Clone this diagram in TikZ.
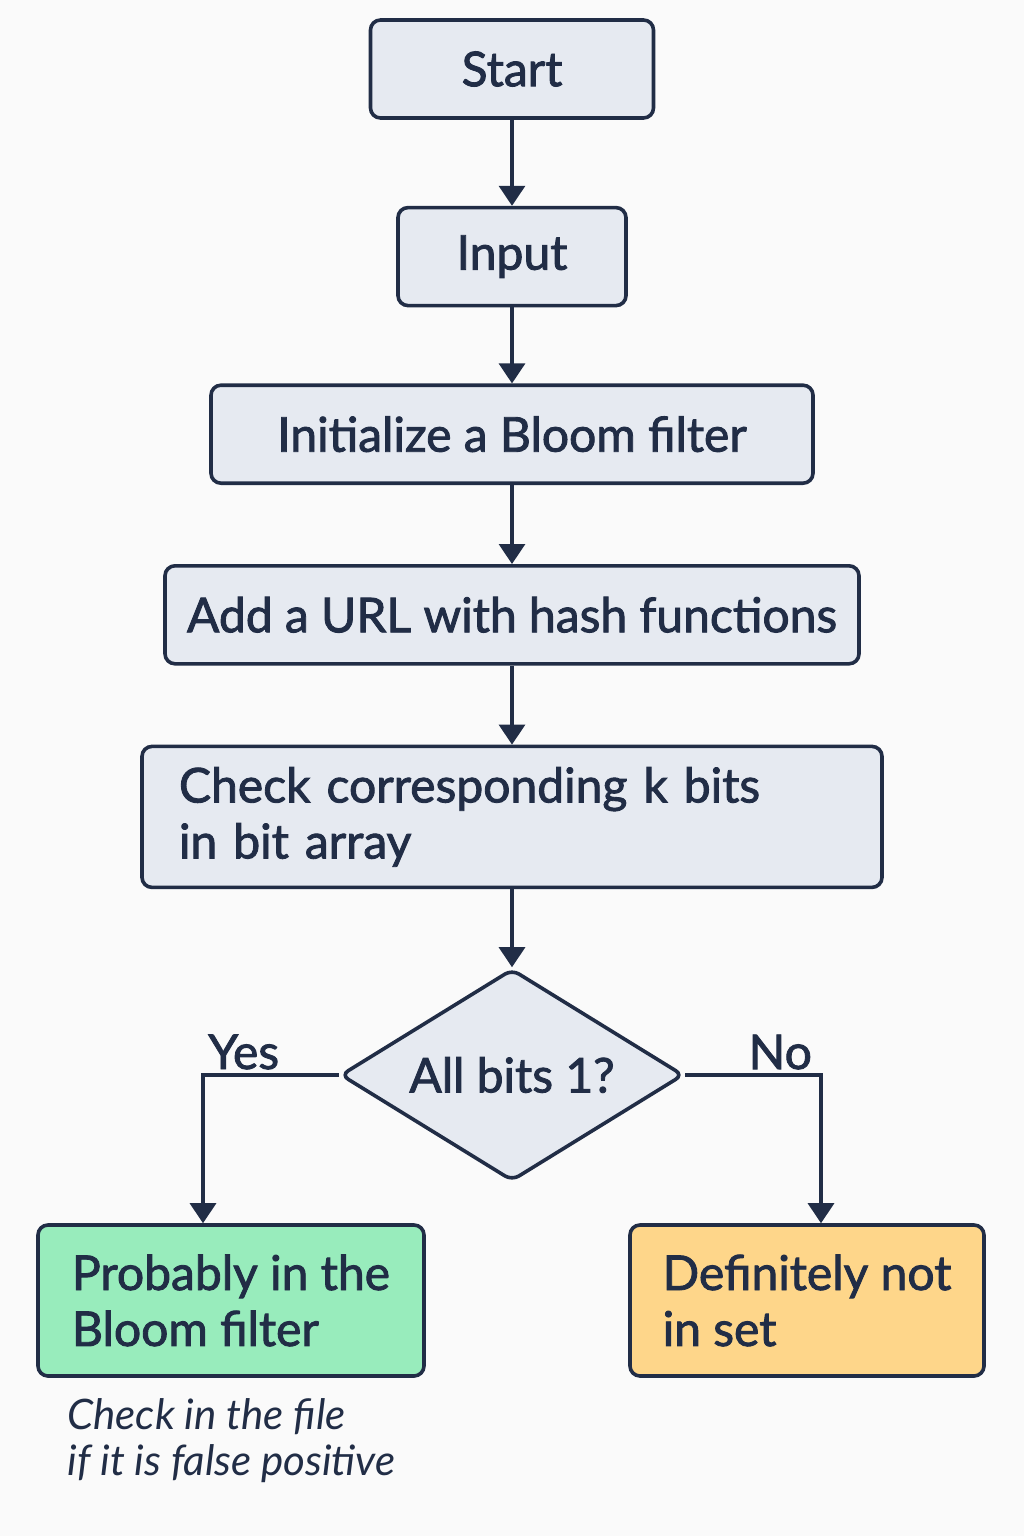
\documentclass[tikz,border=0pt]{standalone}
\usepackage{fontspec}
\setmainfont{Lato}[FakeBold=1.8]
\newfontfamily\notefont{Lato}
\usepackage{xcolor}
\usepackage{tikz}
\usetikzlibrary{positioning, arrows.meta, shapes.geometric}
\definecolor{flowbg}{RGB}{250,250,250}
\definecolor{flowbox}{RGB}{230,234,241}
\definecolor{flowline}{RGB}{33,45,70}
\definecolor{flowgreen}{RGB}{152,236,188}
\definecolor{flowyellow}{RGB}{254,214,138}

\begin{document}
\begin{tikzpicture}[
  x=0.5pt, y=-0.5pt,
  node distance=39.5pt,
  every node/.style={font=\fontsize{24}{28}\selectfont, text=flowline},
  stage/.style={
    draw=flowline, fill=flowbox, rounded corners=5pt,
    minimum height=49pt, line width=1.8pt, align=center
  },
  result/.style={
    draw=flowline, rounded corners=5pt, line width=1.8pt,
    minimum height=75.5pt, align=left
  },
  decision/.style={
    diamond, aspect=2, draw=flowline, fill=flowbox, rounded corners=4pt,
    line width=1.8pt, minimum width=171.5pt, minimum height=106pt, inner sep=0pt
  },
  arrow/.style={-{Triangle[length=10pt,width=13pt]}, line width=1.6pt, draw=flowline},
]

% Background and page size
\fill[flowbg] (0,0) rectangle (1024,1536);

% Stages
\node[stage, minimum width=141.5pt] (start) at (512,69) {Start};
\node[stage, minimum width=114pt, below=43pt of start] (input) {Input};
\node[stage, minimum width=301pt, below=38pt of input] (init) {Initialize a Bloom filter};
\node[stage, minimum width=347pt, below=39.5pt of init] (add) {Add a URL with hash functions};
\node[stage, minimum height=70.5pt, text width=333pt, inner xsep=18.5pt, align=left,
  below=of add] (check) {Check corresponding k bits\\in bit array};
\node[decision, below=39pt of check] (dec) {All bits 1?};

% Results
\node[result, fill=flowgreen, minimum width=193pt] (prob) at (231,1300.5)
  {Probably in the\\Bloom filter};
\node[result, fill=flowyellow, minimum width=177pt] (notin) at (807,1300.5)
  {Definitely not\\in set};
\node[anchor=north west, inner sep=0pt, align=left,
  font=\notefont\fontsize{21}{23}\selectfont\itshape] (note) at (67,1398)
  {Check in the file\\if it is false positive};

% Flow arrows
\draw[arrow] (start) -- (input);
\draw[arrow] (input) -- (init);
\draw[arrow] (init) -- (add);
\draw[arrow] (add) -- (check);
\draw[arrow] (check) -- (dec);
\draw[arrow] (dec.west) -| node[pos=0.35, above, inner sep=2pt] {Yes} ([xshift=-14pt]prob.north);
\draw[arrow] (dec.east) -| node[pos=0.35, above, inner sep=2pt] {No} ([xshift=7pt]notin.north);

\end{tikzpicture}
\end{document}
